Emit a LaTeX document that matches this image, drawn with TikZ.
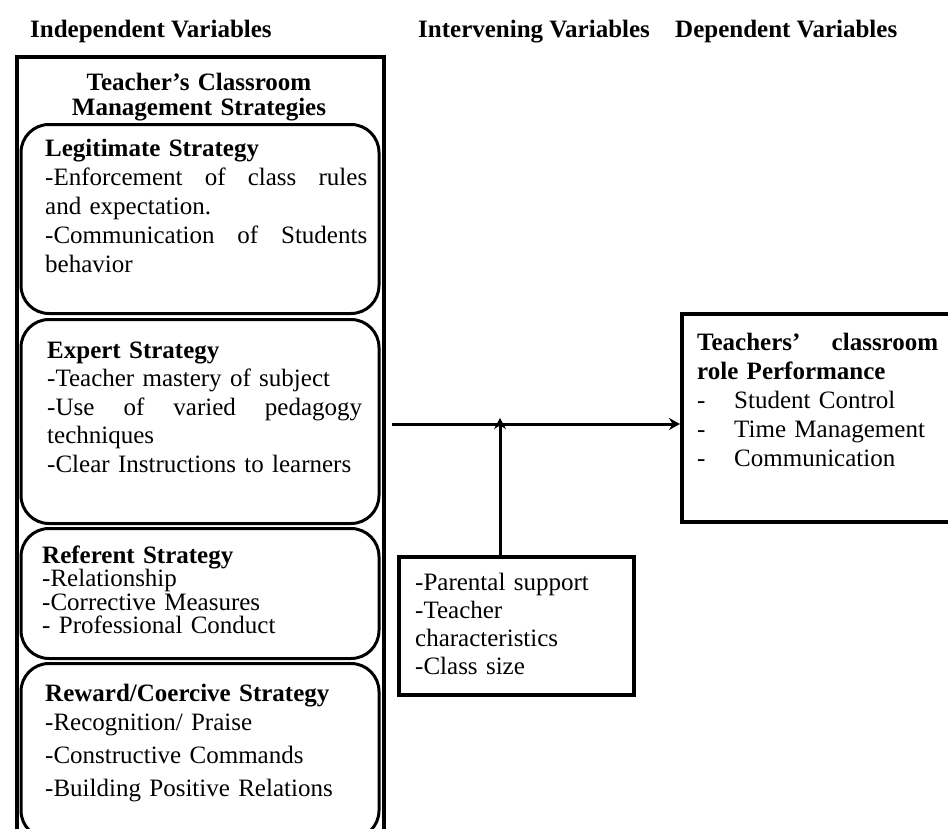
\documentclass[tikz,border=0pt]{standalone}
\usepackage{fontspec}
\setmainfont{Liberation Serif}
\usepackage{tikz}
\usetikzlibrary{positioning}
\usetikzlibrary{arrows.meta}
\tikzstyle{outerbox} = [rectangle, draw=black, line width=3.5pt, inner sep=0pt, anchor=north west]
\tikzstyle{strategy} = [rectangle, rounded corners=28pt, draw=black, line width=3pt, inner sep=0pt, anchor=north west, minimum width=358pt]
\tikzstyle{varbox} = [rectangle, draw=black, line width=4pt, inner sep=0pt, anchor=north west]
\tikzstyle{bodytext} = [anchor=base west, inner sep=0pt, align=left, font=\fontsize{25}{29}\selectfont]
\tikzstyle{heading} = [anchor=base west, inner sep=0pt, font=\fontsize{25}{29}\selectfont\bfseries]
\tikzstyle{arrow} = [line width=3pt, -{Stealth[length=11pt,width=12pt]}]
\newcommand{\jline}[2]{\makebox[#1][l]{#2}}

\begin{document}
\begin{tikzpicture}[x=1pt, y=-1pt]
    \useasboundingbox (0,0) rectangle (948,828);
    \clip (0,0) rectangle (948,828);
    \node(indep)[heading] at (30,37) {Independent Variables};
    \node(interhead)[heading] at (418,37) {Intervening Variables};
    \node(dephead)[heading] at (675,37) {Dependent Variables};

    \node(tcms)[outerbox, minimum width=367pt, minimum height=810pt] at (15,55) {};
    \node(title)[heading, anchor=base, align=center, text width=340pt, font=\fontsize{25}{25}\selectfont\bfseries] at (199,90) {Teacher’s Classroom\\ Management Strategies};

    \node(legitbox)[strategy, minimum height=189pt] at (19.5,123) {};
    \node(legit)[bodytext, text width=322pt] at (45,156) {\textbf{Legitimate Strategy}\\ \jline{322pt}{-Enforcement\hfill of\hfill class\hfill rules}\\ and expectation.\\ \jline{322pt}{-Communication\hfill of\hfill Students}\\ behavior};
    \node(expertbox)[strategy, minimum height=204pt] at (19.5,318) {};
    \node(expert)[bodytext, text width=315pt, font=\fontsize{25}{28.5}\selectfont] at (47,358) {\textbf{Expert Strategy}\\ -Teacher mastery of subject\\ \jline{315pt}{-Use\hfill of\hfill varied\hfill pedagogy}\\ techniques\\ -Clear Instructions to learners};
    \node(referentbox)[strategy, minimum height=130pt] at (19.5,527) {};
    \node(referent)[bodytext, text width=320pt, font=\fontsize{25}{23.5}\selectfont] at (42,563) {\textbf{Referent Strategy}\\ -Relationship\\ -Corrective Measures\\ - Professional Conduct};
    \node(rewardbox)[strategy, minimum height=175pt] at (19.5,662) {};
    \node(reward)[bodytext, text width=320pt] at (45,701) {\textbf{Reward/Coercive Strategy}\\ -Recognition/ Praise\\[4pt] -Constructive Commands\\[4pt] -Building Positive Relations};

    \node(interv)[varbox, minimum width=235pt, minimum height=138pt] at (397,555) {};
    \node(intervtext)[bodytext, text width=210pt, font=\fontsize{25}{28}\selectfont] at (415,590) {-Parental support\\ -Teacher\\ characteristics\\ -Class size};

    \node(perf)[varbox, minimum width=290pt, minimum height=208pt] at (680,312) {};
    \node(perftext)[bodytext, text width=241pt] at (697,350) {\jline{241pt}{\textbf{Teachers’}\hfill\textbf{classroom}}\\ \textbf{role Performance}\\ \makebox[37pt][l]{-}Student Control\\ \makebox[37pt][l]{-}Time Management\\ \makebox[37pt][l]{-}Communication};

    \coordinate(join) at (500,424);
    \draw[arrow]([xshift=6pt]tcms.east |- join) -- (perf.west |- join);
    \draw[arrow](interv.north -| join) -- ([yshift=6pt]join);
\end{tikzpicture}
\end{document}
